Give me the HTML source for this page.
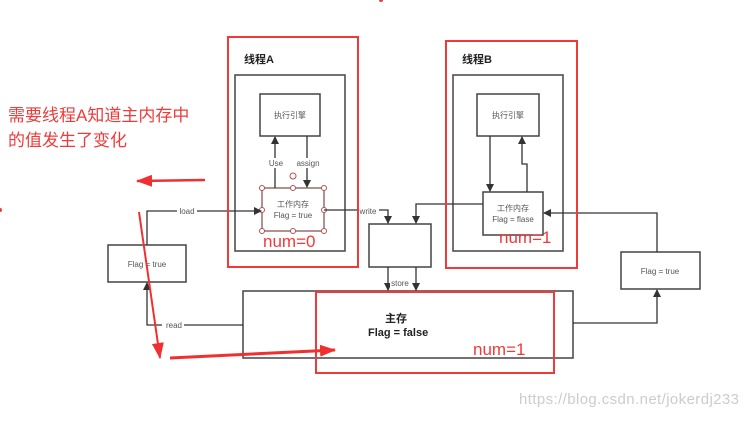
<!DOCTYPE html>
<html><head><meta charset="utf-8"><style>
body{margin:0;background:#fff;}
svg text{font-family:"Liberation Sans","Noto Sans CJK SC",sans-serif;}
</style></head><body>
<svg width="746" height="418" viewBox="0 0 746 418" xmlns="http://www.w3.org/2000/svg">
<defs>
<marker id="a" markerWidth="8" markerHeight="8" refX="7" refY="4" orient="auto" markerUnits="userSpaceOnUse"><path d="M0,0 L8,4 L0,8 z" fill="#333"/></marker>
<marker id="r" markerWidth="16" markerHeight="12" refX="15" refY="6" orient="auto" markerUnits="userSpaceOnUse"><path d="M0,0 L16,6 L0,12 z" fill="#f03030"/></marker>
</defs>
<g fill="none" stroke="#444" stroke-width="1.5">
<rect x="235" y="75" width="110" height="176"/>
<rect x="260" y="94" width="60" height="42"/>
<rect x="453" y="75" width="110" height="176"/>
<rect x="477" y="94" width="62" height="42"/>
<rect x="483" y="192" width="60" height="43"/>
<rect x="369" y="224" width="62" height="43"/>
<rect x="108" y="245" width="78" height="37"/>
<rect x="621" y="252" width="79" height="37"/>
<rect x="243" y="291" width="330" height="67"/>
</g>
<rect x="262" y="188" width="62" height="43" fill="none" stroke="#7a4a4a" stroke-width="1.2"/>
<g fill="#fff" stroke="#b05050" stroke-width="1"><circle cx="262" cy="188" r="2.5"/><circle cx="293" cy="188" r="2.5"/><circle cx="324" cy="188" r="2.5"/><circle cx="262" cy="210" r="2.5"/><circle cx="324" cy="210" r="2.5"/><circle cx="262" cy="231" r="2.5"/><circle cx="293" cy="231" r="2.5"/><circle cx="324" cy="231" r="2.5"/><circle cx="293" cy="176" r="3"/></g>
<g fill="none" stroke="#333" stroke-width="1.3">
<path d="M275,188 V137" marker-end="url(#a)"/>
<path d="M307,136 V187" marker-end="url(#a)"/>
<path d="M490,136 V191" marker-end="url(#a)"/>
<path d="M527,192 V164 H522 V137" marker-end="url(#a)"/>
<path d="M147,245 V211 H261" marker-end="url(#a)"/>
<path d="M243,325 H147 V283" marker-end="url(#a)"/>
<path d="M324,210 H388 V223" marker-end="url(#a)"/>
<path d="M483,204 H416 V223" marker-end="url(#a)"/>
<path d="M388,267 V290" marker-end="url(#a)"/>
<path d="M416,267 V290" marker-end="url(#a)"/>
<path d="M573,323 H657 V290" marker-end="url(#a)"/>
<path d="M657,252 V213 H544" marker-end="url(#a)"/>
</g>
<g font-size="8" fill="#555" text-anchor="middle">
<rect x="268" y="158" width="16" height="10" fill="#fff"/><text x="276" y="166">Use</text>
<rect x="296" y="158" width="24" height="10" fill="#fff"/><text x="308" y="166">assign</text>
<rect x="177" y="206" width="20" height="10" fill="#fff"/><text x="187" y="214">load</text>
<rect x="357" y="206" width="22" height="10" fill="#fff"/><text x="368" y="214">write</text>
<rect x="390" y="278" width="20" height="10" fill="#fff"/><text x="400" y="286">store</text>
<rect x="162" y="320" width="22" height="10" fill="#fff"/><text x="174" y="328">read</text>
<text x="290" y="118">执行引擎</text>
<text x="508" y="118">执行引擎</text>
<text x="293" y="207">工作内存</text>
<text x="293" y="218">Flag = true</text>
<text x="513" y="211">工作内存</text>
<text x="513" y="222">Flag = flase</text>
<text x="147" y="267">Flag = true</text>
<text x="660" y="274">Flag = true</text>
</g>
<g font-size="11" font-weight="bold" fill="#222">
<text x="244" y="63">线程A</text>
<text x="462" y="63">线程B</text>
<text x="385" y="322">主存</text>
<text x="368" y="336">Flag = false</text>
</g>
<g fill="none" stroke="#f03a3a" stroke-width="2">
<rect x="228" y="37" width="130" height="230"/>
<rect x="446" y="41" width="131" height="227"/>
<rect x="316" y="292" width="238" height="81"/>
</g>
<g fill="#f03a3a" font-size="17">
<text x="263" y="247">num=0</text>
<text x="499" y="243">num=1</text>
<text x="473" y="355">num=1</text>
<text x="8" y="121" font-size="17">需要线程A知道主内存中</text>
<text x="8" y="146" font-size="17">的值发生了变化</text>
</g>
<g stroke="#f03030" stroke-width="2.5" fill="none">
<path d="M205,180 L137,181" marker-end="url(#r)"/>
<path d="M139,212 L160,358" marker-end="url(#r)" stroke-width="2"/>
<path d="M170,358 L335,350" marker-end="url(#r)" stroke-width="3"/>
</g>
<circle cx="381" cy="0" r="2" fill="#f03a3a"/>
<circle cx="0" cy="210" r="2" fill="#f03a3a"/>
<text x="519" y="404" font-size="15" fill="#ccc" textLength="220">https://blog.csdn.net/jokerdj233</text>
</svg>
</body></html>
